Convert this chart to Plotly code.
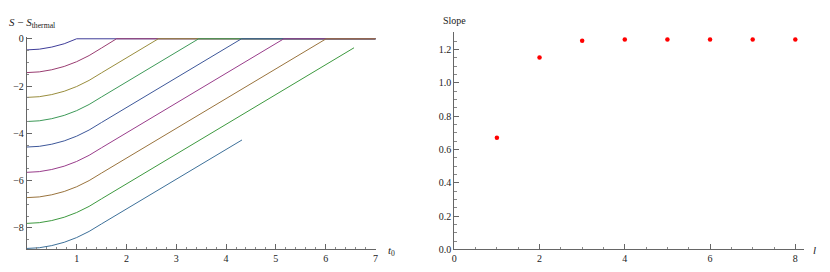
import plotly.graph_objects as go

W, H = 830, 272
# the page is photographed slightly squeezed vertically; positions are laid out
# against the effective height so they land where the reference has them
HEFF = H * 0.968
XOFF = -1.0

# ---- left panel data: S - S_thermal vs t0 ----
t_c1 = [0, 0.25, 0.5, 0.75, 1.0, 7.0]
y_c1 = [-0.47, -0.44, -0.35, -0.21, 0.0, 0.0]

t_c2 = [0, 0.25, 0.5, 0.75, 1.0, 1.25, 1.5, 1.8, 7.0]
y_c2 = [-1.43, -1.40, -1.31, -1.17, -0.97, -0.71, -0.39, 0.0, 0.0]

t_c3 = [0, 0.25, 0.5, 0.75, 1.0, 1.25, 1.5, 2.0, 2.64, 7.0]
y_c3 = [-2.48, -2.45, -2.36, -2.22, -2.02, -1.76, -1.44, -0.81, 0.0, 0.0]

t_c4 = [0, 0.25, 0.5, 0.75, 1.0, 1.25, 1.5, 2.0, 3.0, 3.45, 7.0]
y_c4 = [-3.50, -3.47, -3.38, -3.24, -3.04, -2.78, -2.46, -1.83, -0.57, 0.0, 0.0]

t_c5 = [0, 0.25, 0.5, 0.75, 1.0, 1.25, 1.5, 2.0, 3.0, 4.0, 4.31, 7.0]
y_c5 = [-4.58, -4.55, -4.46, -4.32, -4.12, -3.86, -3.54, -2.91, -1.65, -0.39, 0.0, 0.0]

t_c6 = [0, 0.25, 0.5, 0.75, 1.0, 1.25, 1.5, 2.0, 3.0, 4.0, 5.0, 5.16, 7.0]
y_c6 = [-5.65, -5.62, -5.53, -5.39, -5.19, -4.93, -4.61, -3.98, -2.72, -1.46, -0.20, 0.0, 0.0]

t_c7 = [0, 0.25, 0.5, 0.75, 1.0, 1.25, 1.5, 2.0, 3.0, 4.0, 5.0, 6.01, 7.0]
y_c7 = [-6.72, -6.69, -6.60, -6.46, -6.26, -6.00, -5.68, -5.05, -3.79, -2.53, -1.27, 0.0, 0.0]

t_c8 = [0, 0.25, 0.5, 0.75, 1.0, 1.25, 1.5, 2.0, 3.0, 4.0, 5.0, 6.0, 6.57]
y_c8 = [-7.81, -7.78, -7.69, -7.55, -7.35, -7.09, -6.77, -6.14, -4.88, -3.62, -2.36, -1.10, -0.38]

t_c9 = [0, 0.25, 0.5, 0.75, 1.0, 1.25, 1.5, 2.0, 3.0, 4.0, 4.32]
y_c9 = [-8.87, -8.84, -8.75, -8.61, -8.41, -8.15, -7.83, -7.20, -5.94, -4.68, -4.28]

curve_colors = ["#3f3d99", "#993d71", "#998d3d", "#3d9958", "#3d5799",
                "#993d8b", "#99733d", "#3d993f", "#3d7099"]

# ---- right panel data: slope vs l ----
l_vals = [1, 2, 3, 4, 5, 6, 7, 8]
slope_vals = [0.671, 1.152, 1.252, 1.26, 1.26, 1.26, 1.26, 1.26]

left_x_ticks = [1, 2, 3, 4, 5, 6, 7]
left_y_ticks = [0, -2, -4, -6, -8]
right_x_ticks = [0, 2, 4, 6, 8]
right_y_ticks = [0.0, 0.2, 0.4, 0.6, 0.8, 1.0, 1.2]

curves = [(t_c1, y_c1), (t_c2, y_c2), (t_c3, y_c3), (t_c4, y_c4), (t_c5, y_c5),
          (t_c6, y_c6), (t_c7, y_c7), (t_c8, y_c8), (t_c9, y_c9)]

fig = go.Figure()
for (tt, yy), col in zip(curves, curve_colors):
    fig.add_trace(go.Scatter(x=tt, y=yy, mode="lines",
                             line=dict(color=col, width=1),
                             xaxis="x", yaxis="y", showlegend=False,
                             hoverinfo="skip"))

fig.add_trace(go.Scatter(x=l_vals, y=slope_vals, mode="markers",
                         marker=dict(color="#ff0000", size=4.5),
                         xaxis="x2", yaxis="y2", showlegend=False,
                         hoverinfo="skip"))

font = dict(family="Liberation Serif", size=10, color="#222222")
axis_common = dict(showgrid=False, zeroline=False, showline=True,
                   linecolor="#666666", linewidth=1, ticks="inside",
                   ticklen=5, tickcolor="#666666", tickfont=font)

def px2fx(px):
    return (px + XOFF) / W

def px2fy(py):
    return 1 - py / HEFF

fig.update_layout(
    width=W, height=H,
    margin=dict(l=0, r=0, t=0, b=0),
    paper_bgcolor="white", plot_bgcolor="white",
    xaxis=dict(domain=[px2fx(25), px2fx(376.7)], range=[0, 7.02],
               tickvals=left_x_ticks, anchor="y",
               minor=dict(dtick=0.2, tick0=0, ticks="inside", ticklen=2.5,
                          tickcolor="#888888"),
               **axis_common),
    yaxis=dict(domain=[px2fy(246.7), px2fy(33.3)], range=[-8.914, 0.07],
               tickvals=left_y_ticks, anchor="x",
               minor=dict(dtick=0.5, tick0=0, ticks="inside", ticklen=2.5,
                          tickcolor="#888888"),
               **axis_common),
    xaxis2=dict(domain=[px2fx(455), px2fx(806.7)], range=[0, 8.2],
                tickvals=right_x_ticks, anchor="y2",
                minor=dict(dtick=0.5, tick0=0, ticks="inside", ticklen=2.5,
                           tickcolor="#888888"),
                **axis_common),
    yaxis2=dict(domain=[px2fy(246.7), px2fy(28.3)], range=[0, 1.304],
                tickvals=right_y_ticks, tickformat=".1f", anchor="x2",
                minor=dict(dtick=0.05, tick0=0, ticks="inside", ticklen=2.5,
                           tickcolor="#888888"),
                **axis_common),
    annotations=[
        dict(text="<i>S</i> − <i>S</i><sub>thermal</sub>", xref="paper", yref="paper",
             x=px2fx(5), y=px2fy(19), xanchor="left", yanchor="middle",
             showarrow=False, font=dict(family="Liberation Serif", size=11, color="#222222")),
        dict(text="<i>t</i><sub>0</sub>", xref="paper", yref="paper",
             x=px2fx(386), y=px2fy(248), xanchor="left", yanchor="middle",
             showarrow=False, font=dict(family="Liberation Serif", size=11, color="#222222")),
        dict(text="Slope", xref="paper", yref="paper",
             x=px2fx(455), y=px2fy(17), xanchor="center", yanchor="middle",
             showarrow=False, font=dict(family="Liberation Serif", size=10, color="#222222")),
        dict(text="<i>l</i>", xref="paper", yref="paper",
             x=px2fx(817), y=px2fy(247), xanchor="center", yanchor="middle",
             showarrow=False, font=dict(family="Liberation Serif", size=11, color="#222222")),
    ],
)

fig.write_html(
    "out.html",
    config={"displayModeBar": False},
    post_script=(
        "document.body.style.margin='0';"
        "document.body.style.overflow='hidden';"
    ),
)
